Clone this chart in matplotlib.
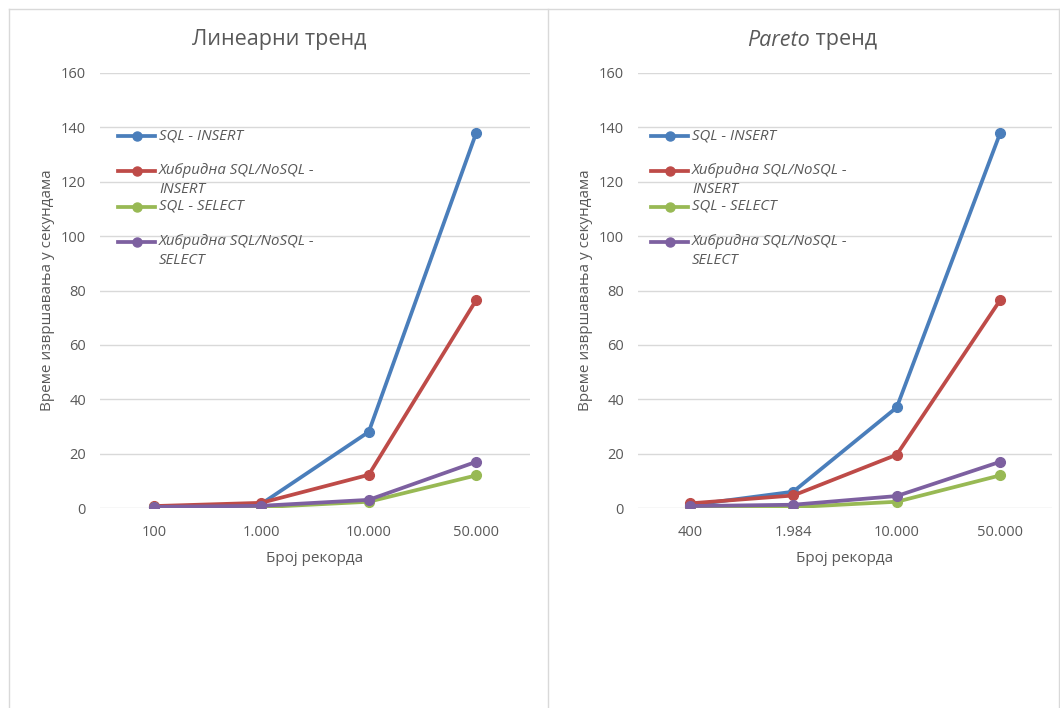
import matplotlib
matplotlib.use("Agg")
import matplotlib.pyplot as plt
from matplotlib.lines import Line2D

plt.rcParams['font.family'] = ['Open Sans', 'Noto Sans', 'DejaVu Sans']

# Data
series_names = ["SQL - INSERT", "Хибридна SQL/NoSQL -\nINSERT",
                "SQL - SELECT", "Хибридна SQL/NoSQL -\nSELECT"]
colors = ["#4A7EBB", "#BE4B48", "#98B954", "#7D60A0"]

linear_categories = ["100", "1.000", "10.000", "50.000"]
linear_sql_insert = [0.3, 1.5, 28.0, 138.0]
linear_hybrid_insert = [0.7, 1.9, 12.2, 76.5]
linear_sql_select = [0.2, 0.3, 2.3, 12.0]
linear_hybrid_select = [0.4, 0.8, 3.0, 17.0]

pareto_categories = ["400", "1.984", "10.000", "50.000"]
pareto_sql_insert = [1.0, 6.0, 37.0, 138.0]
pareto_hybrid_insert = [1.7, 4.6, 19.6, 76.5]
pareto_sql_select = [0.3, 0.3, 2.3, 12.0]
pareto_hybrid_select = [0.7, 1.2, 4.4, 17.0]

y_ticks = [0, 20, 40, 60, 80, 100, 120, 140, 160]
x_label = "Број рекорда"
y_label = "Време извршавања у секундама"

W, H = 1060, 708
fig = plt.figure(figsize=(W / 100, H / 100), dpi=100)
fig.patch.set_facecolor("white")

TXT = "#595959"
GRID = "#D9D9D9"


def fx(x):
    return x / W


def fy(y):
    return 1 - y / H


# outer frame and divider between the two charts
frame = dict(color=GRID, lw=1.0, transform=fig.transFigure)
fig.add_artist(Line2D([fx(9), fx(1059)], [fy(9), fy(9)], **frame))
fig.add_artist(Line2D([fx(9), fx(9)], [fy(9), fy(708)], **frame))
fig.add_artist(Line2D([fx(548), fx(548)], [fy(9), fy(708)], **frame))
fig.add_artist(Line2D([fx(1059), fx(1059)], [fy(9), fy(708)], **frame))


def make_panel(left, right, categories, data, legend_x):
    top, bottom = 73, 508
    ax = fig.add_axes([fx(left), fy(bottom), fx(right - left), (bottom - top) / H])
    x = range(len(categories))
    for vals, c in zip(data, colors):
        ax.plot(x, vals, color=c, lw=2.7, marker="o", ms=7,
                solid_capstyle="round", zorder=3)
    ax.set_xlim(-0.5, len(categories) - 0.5)
    ax.set_ylim(0, 160)
    ax.set_yticks(y_ticks)
    ax.set_xticks(list(x))
    ax.set_xticklabels(categories)
    ax.tick_params(axis="both", length=0, labelsize=10.5, colors=TXT)
    ax.tick_params(axis="y", pad=10)
    ax.tick_params(axis="x", pad=12)
    ax.grid(axis="y", color=GRID, lw=1.0)
    ax.set_axisbelow(True)
    for s in ax.spines.values():
        s.set_visible(False)
    ax.set_xlabel(x_label, fontsize=11, color=TXT, labelpad=8)
    ax.set_ylabel(y_label, fontsize=11, color=TXT, labelpad=4)

    # legend entries drawn in figure pixels
    item_y = [136, 171, 207, 242]
    for name, c, yy in zip(series_names, colors, item_y):
        fig.add_artist(Line2D([fx(legend_x), fx(legend_x + 37)], [fy(yy), fy(yy)],
                              color=c, lw=2.7, transform=fig.transFigure))
        fig.add_artist(Line2D([fx(legend_x + 18.5)], [fy(yy)], color=c, marker="o",
                              ms=6.5, transform=fig.transFigure))
        fig.text(fx(legend_x + 41), fy(yy - 8), name, fontsize=10.8, style="italic",
                 color=TXT, va="top", ha="left", linespacing=1.35)
    return ax


ax1 = make_panel(100, 530, linear_categories,
                 [linear_sql_insert, linear_hybrid_insert, linear_sql_select, linear_hybrid_select],
                 118)
ax2 = make_panel(638, 1052, pareto_categories,
                 [pareto_sql_insert, pareto_hybrid_insert, pareto_sql_select, pareto_hybrid_select],
                 651)

# titles
fig.text(fx(279), fy(40), "Линеарни тренд", fontsize=15.5, color=TXT, ha="center", va="center")

renderer = fig.canvas.get_renderer()
t_it = fig.text(0, fy(40), "Pareto", fontsize=15.5, color=TXT, style="italic",
                ha="left", va="center")
t_rg = fig.text(0, fy(40), " тренд", fontsize=15.5, color=TXT, ha="left", va="center")
w1 = t_it.get_window_extent(renderer).width
w2 = t_rg.get_window_extent(renderer).width
start = 812 - (w1 + w2) / 2
t_it.set_x(fx(start))
t_rg.set_x(fx(start + w1))

fig.savefig("out.png", dpi=100)
